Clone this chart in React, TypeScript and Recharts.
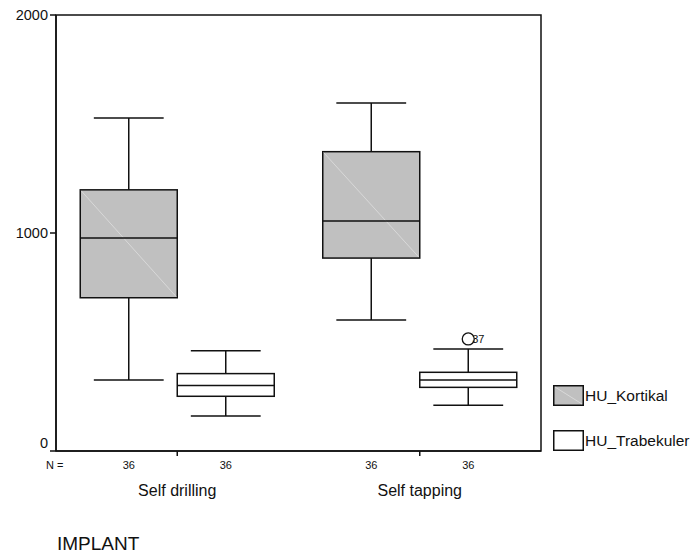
import React from 'react'
import { ComposedChart, Bar, XAxis, YAxis, ReferenceArea } from 'recharts'

const categories = ['Self drilling', 'Self tapping']

// HU_Kortikal box stats
const kortikalMin = [326, 601]
const kortikalQ1 = [703, 885]
const kortikalMedian = [977, 1055]
const kortikalQ3 = [1198, 1373]
const kortikalMax = [1528, 1596]
const kortikalN = [36, 36]

// HU_Trabekuler box stats
const trabekulerMin = [161, 210]
const trabekulerQ1 = [251, 292]
const trabekulerMedian = [301, 326]
const trabekulerQ3 = [355, 361]
const trabekulerMax = [460, 468]
const trabekulerN = [36, 36]
const trabekulerOutlier = [null, 514]
const trabekulerOutlierLabel = ['', '37']

const yTicks = [0, 1000, 2000]
const seriesNames = ['HU_Kortikal', 'HU_Trabekuler']
const seriesFills = ['#c0c0c0', '#ffffff']

const FONT = '"Liberation Sans", Arial, Helvetica, sans-serif'

const data = categories.map((name, i) => ({
  name,
  kortikal: [kortikalMin[i], kortikalMax[i]],
  kQ1: kortikalQ1[i],
  kMed: kortikalMedian[i],
  kQ3: kortikalQ3[i],
  kN: kortikalN[i],
  kOut: null as number | null,
  kOutLabel: '',
  trabekuler: [trabekulerMin[i], trabekulerMax[i]],
  tQ1: trabekulerQ1[i],
  tMed: trabekulerMedian[i],
  tQ3: trabekulerQ3[i],
  tN: trabekulerN[i],
  tOut: trabekulerOutlier[i],
  tOutLabel: trabekulerOutlierLabel[i],
}))

function makeBox(rangeKey: 'kortikal' | 'trabekuler', p: 'k' | 't', fill: string, diagonal: boolean) {
  return (props: any) => {
    const { x, y, width, height, payload } = props
    const [lo, hi] = payload[rangeKey]
    const top = Math.min(y, y + height)
    const bottom = Math.max(y, y + height)
    const toPx = (v: number) => bottom - ((v - lo) / (hi - lo)) * (bottom - top)
    const q1 = toPx(payload[p + 'Q1'])
    const q3 = toPx(payload[p + 'Q3'])
    const med = toPx(payload[p + 'Med'])
    const cx = x + width / 2
    const cap = width * 0.36
    const out = payload[p + 'Out']
    return (
      <g>
        <line x1={cx} x2={cx} y1={top} y2={q3} stroke="#111" strokeWidth={1.5} />
        <line x1={cx} x2={cx} y1={q1} y2={bottom} stroke="#111" strokeWidth={1.5} />
        <line x1={cx - cap} x2={cx + cap} y1={top} y2={top} stroke="#111" strokeWidth={1.5} />
        <line x1={cx - cap} x2={cx + cap} y1={bottom} y2={bottom} stroke="#111" strokeWidth={1.5} />
        <rect x={x} y={q3} width={width} height={q1 - q3} fill={fill} stroke="#111" strokeWidth={1.5} />
        {diagonal && (
          <line x1={x + 1} y1={q3 + 1} x2={x + width - 1} y2={q1 - 1} stroke="#dedede" strokeWidth={0.8} />
        )}
        <line x1={x} x2={x + width} y1={med} y2={med} stroke="#111" strokeWidth={1.5} />
        {out != null && (
          <g>
            <circle cx={cx} cy={toPx(out)} r={6} fill="#fff" stroke="#111" strokeWidth={1.3} />
            <text x={cx + 4} y={toPx(out) + 4} fontSize={11} fontFamily={FONT} fill="#111">
              {payload[p + 'OutLabel']}
            </text>
          </g>
        )}
        <text x={cx} y={toPx(0) + 18} textAnchor="middle" fontSize={11} fontFamily={FONT} fill="#111">
          {payload[p + 'N']}
        </text>
      </g>
    )
  }
}

function CategoryTick(props: any) {
  const { x, y, payload } = props
  return (
    <text x={x} y={y} dy={38} textAnchor="middle" fontSize={16} fontFamily={FONT} fill="#111">
      {payload.value}
    </text>
  )
}

// SPSS lifts the zero label a bit above the axis line
function ValueTick(props: any) {
  const { x, y, payload } = props
  const lift = payload.value === 0 ? -8 : 0
  return (
    <text x={x} y={y + lift} dy={5} textAnchor="end" fontSize={14.5} fontFamily={FONT} fill="#111">
      {payload.value}
    </text>
  )
}

function LegendBox() {
  return (
    <div style={{ position: 'absolute', left: 553, top: 385, fontFamily: FONT, fontSize: 15.5, color: '#111' }}>
      {seriesNames.map((name, i) => (
        <div key={name} style={{ display: 'flex', alignItems: 'center', height: 21, marginBottom: 24 }}>
          <svg width={31} height={21} style={{ display: 'block' }}>
            <rect x={0.75} y={0.75} width={29.5} height={19.5} fill={seriesFills[i]} stroke="#111" strokeWidth={1.5} />
            {i === 0 && <line x1={2} y1={2} x2={29} y2={19} stroke="#dedede" strokeWidth={0.8} />}
          </svg>
          <span style={{ marginLeft: 1 }}>{name}</span>
        </div>
      ))}
    </div>
  )
}

export default function App() {
  return (
    <div style={{ position: 'absolute', left: 0, top: 0, width: 695, height: 554, background: '#fff' }}>
      <ComposedChart
        width={695}
        height={554}
        data={data}
        margin={{ top: 15, right: 154, bottom: 73, left: 0 }}
        barCategoryGap="10%"
        barGap={0}
      >
        <ReferenceArea y1={0} y2={2000} fill="none" stroke="#111" strokeWidth={1.5} ifOverflow="visible" />
        <XAxis
          dataKey="name"
          height={30}
          stroke="#111"
          strokeWidth={1.5}
          tickSize={5}
          tick={<CategoryTick />}
        />
        <YAxis
          domain={[0, 2000]}
          ticks={yTicks}
          width={56}
          stroke="#111"
          strokeWidth={1.5}
          tickSize={6}
          tick={<ValueTick />}
        />
        <Bar
          dataKey="kortikal"
          name={seriesNames[0]}
          fill={seriesFills[0]}
          isAnimationActive={false}
          shape={makeBox('kortikal', 'k', seriesFills[0], true)}
        />
        <Bar
          dataKey="trabekuler"
          name={seriesNames[1]}
          fill={seriesFills[1]}
          isAnimationActive={false}
          shape={makeBox('trabekuler', 't', seriesFills[1], false)}
        />
        <text x={46} y={469} fontSize={11} fontFamily={FONT} fill="#111">N =</text>
        <text x={57} y={550} fontSize={19} fontFamily={FONT} fill="#111">IMPLANT</text>
      </ComposedChart>
      <LegendBox />
    </div>
  )
}
